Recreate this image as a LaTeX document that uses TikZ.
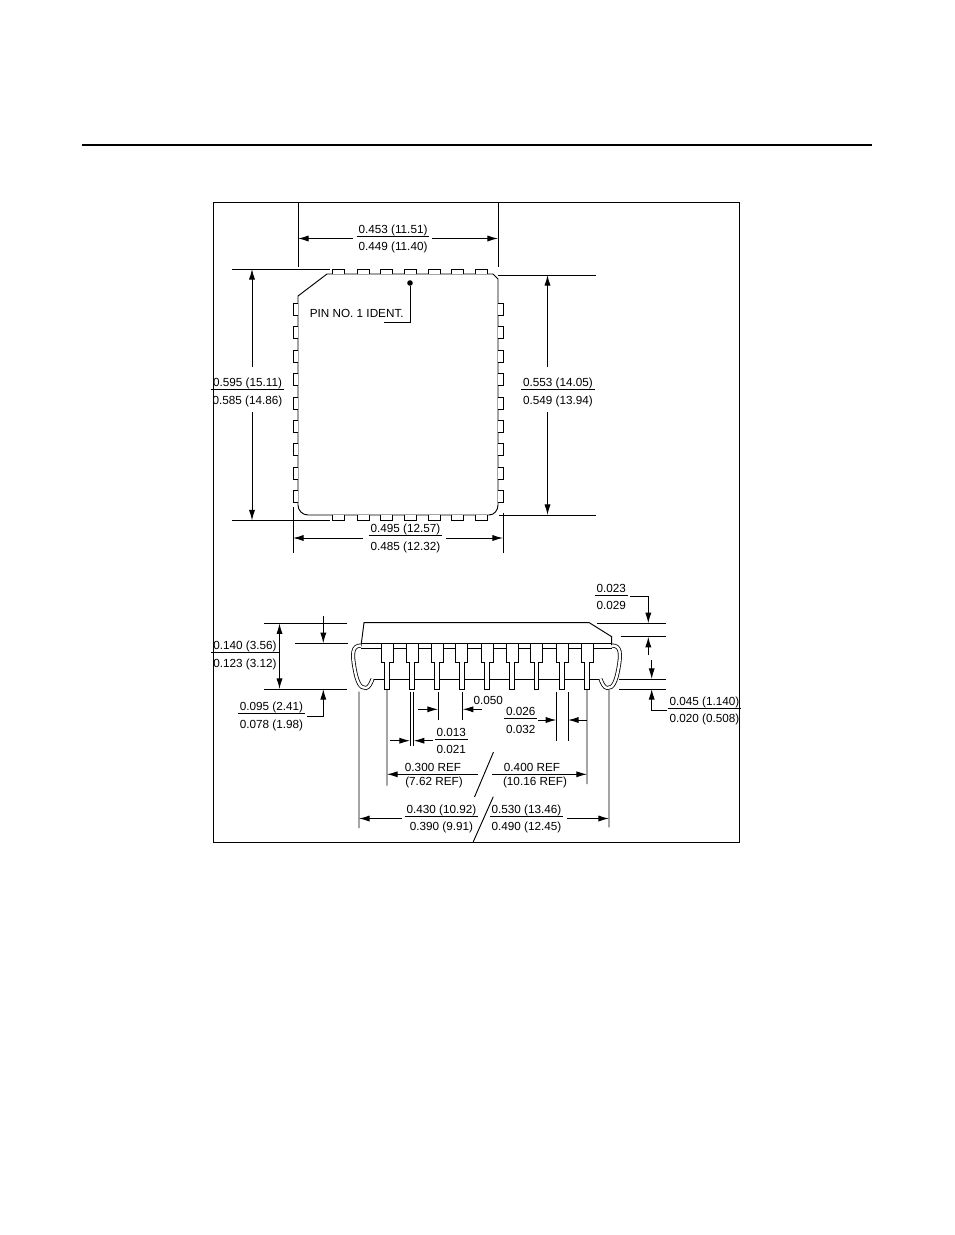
\documentclass[tikz,border=0pt]{standalone}
\usepackage{fontspec}
\setmainfont{Liberation Sans}
\usepackage{tikz}
\usetikzlibrary{arrows.meta}
\newcommand{\dimfrac}[2]{{\renewcommand{\arraystretch}{0}\begin{tabular}{@{\,}c@{\,}}\rule[-2.2pt]{0pt}{9pt}#1\\\hline\rule[-0.4pt]{0pt}{10.8pt}#2\end{tabular}}}
\setlength{\arrayrulewidth}{0.6pt}
\tikzset{
	dimline/.style={line width=0.7pt},
	dimarrow/.style={line width=0.7pt,-{Latex[length=8pt,width=4.6pt]}},
	outline/.style={line width=0.7pt},
	pinbox/.style={line width=0.7pt,fill=white},
	lead/.style={line width=0.6pt,double=white,double distance=1.8pt},
	dimtext/.style={inner sep=0pt,font=\fontsize{8.8}{10}\selectfont}
}
\begin{document}
\begin{tikzpicture}[x=0.75pt,y=-0.75pt]
	\useasboundingbox (0,0) rectangle (954,1235);

	\coordinate (ruleL) at (82,145);
	\coordinate (ruleR) at (872,145);
	\draw [line width=1.4pt] (ruleL) -- (ruleR);
	\draw [line width=0.7pt] (213,202) rectangle (739.7,842);

	% top view
	\draw [outline] (327,274) -- (493,274) -- (498,279) -- (498,505)
		to [out=-90,in=0] (489,515) -- (308,515) to [out=180,in=-90] (298,505) -- (298,296) -- cycle;
	\foreach \x in {332.5,357,380.5,404.5,428,451,475} {
		\draw [pinbox] (\x,274) -- (\x,269) -- (\x+12,269) -- (\x+12,274);
		\draw [pinbox] (\x,515) -- (\x,520) -- (\x+12,520) -- (\x+12,515);
	}
	\foreach \y in {303,326.5,350,373.5,397,420,443.5,467,490} {
		\draw [pinbox] (298,\y) -- (293,\y) -- (293,\y+12) -- (298,\y+12);
		\draw [pinbox] (498,\y) -- (503,\y) -- (503,\y+12) -- (498,\y+12);
	}

	\coordinate (wa) at (298,202);
	\coordinate (wab) at (298,267);
	\coordinate (wb) at (498,202);
	\coordinate (wbb) at (498,267);
	\coordinate (wal) at (353,238.5);
	\coordinate (wam) at (298,238.5);
	\coordinate (wbl) at (432,238.5);
	\coordinate (wbm) at (498,238.5);
	\node [dimtext] (wlab) at (393,238.5) {\dimfrac{0.453 (11.51)}{0.449 (11.40)}};

	\coordinate (ha) at (232,269);
	\coordinate (hab) at (330,269);
	\coordinate (hb) at (232,520.5);
	\coordinate (hbb) at (330,520.5);
	\coordinate (hau) at (252,269);
	\coordinate (hal) at (252,367);
	\coordinate (hbu) at (252,412);
	\coordinate (hbl) at (252,520.5);
	\node [dimtext] (hlab) at (247.5,392) {\dimfrac{0.595 (15.11)}{0.585 (14.86)}};

	\coordinate (ka) at (498,275);
	\coordinate (kab) at (596,275);
	\coordinate (kb) at (499,515);
	\coordinate (kbb) at (596,515);
	\coordinate (kau) at (547.5,275);
	\coordinate (kal) at (547.5,367);
	\coordinate (kbu) at (547.5,412);
	\coordinate (kbl) at (547.5,515);
	\node [dimtext] (klab) at (558,392) {\dimfrac{0.553 (14.05)}{0.549 (13.94)}};

	\coordinate (la) at (293,507);
	\coordinate (lab) at (293,552.5);
	\coordinate (lb) at (503,513);
	\coordinate (lbb) at (503,552.5);
	\coordinate (lam) at (293,538);
	\coordinate (lal) at (363,538);
	\coordinate (lbm) at (503,538);
	\coordinate (lbl) at (446,538);
	\node [dimtext] (llab) at (405.5,538) {\dimfrac{0.495 (12.57)}{0.485 (12.32)}};

	\node [circle,fill,inner sep=0pt,minimum size=4.2pt] (dot) at (410,283) {};
	\coordinate (dotc) at (410,322.7);
	\coordinate (dote) at (384,322.7);
	\node [dimtext,anchor=west] (ident) at (309.5,313) {PIN NO. 1 IDENT.};

	\draw [dimline] (wa) -- (wab) (wb) -- (wbb) (ha) -- (hab) (hb) -- (hbb) (ka) -- (kab) (kb) -- (kbb) (la) -- (lab) (lb) -- (lbb);
	\draw [dimarrow] (wal) -- (wam);
	\draw [dimarrow] (wbl) -- (wbm);
	\draw [dimarrow] (hal) -- (hau);
	\draw [dimarrow] (hbu) -- (hbl);
	\draw [dimarrow] (kal) -- (kau);
	\draw [dimarrow] (kbu) -- (kbl);
	\draw [dimarrow] (lal) -- (lam);
	\draw [dimarrow] (lbl) -- (lbm);
	\draw [dimline] (dot) -- (dotc) -- (dote);

	% side view
	\draw [outline] (361,646) -- (364,622.7) -- (589.3,622.7) -- (611.7,636.7) -- (611.7,645);
	\draw [dimline] (361,648) -- (612,648) (370,679) -- (603,679);
	\foreach \c in {387,412,437,461.7,487,512,536.5,562,587} {
		\draw [pinbox] (\c-6,643.2) -- (\c-6,662) -- (\c-2.4,662) -- (\c-2.4,689) -- (\c+2.4,689) -- (\c+2.4,662) -- (\c+6,662) -- (\c+6,643.2);
	}
	\draw [dimline] (361,643.2) -- (612,643.2);
	\draw [lead] (361,645.5) .. controls (352,645.5) and (352,654) .. (354.5,668) .. controls (357,682) and (360,688.5) .. (366,688) .. controls (369,687.5) and (371,683) .. (372.5,679);
	\draw [lead] (612,645.5) .. controls (621,645.5) and (621,654) .. (618.5,668) .. controls (616,682) and (613,688.5) .. (607,688) .. controls (604,687.5) and (602,683) .. (600.5,679);

	\coordinate (aa) at (264,623.3);
	\coordinate (aab) at (347,623.3);
	\coordinate (ab) at (295,643.3);
	\coordinate (abb) at (348,643.3);
	\coordinate (ac) at (264,689);
	\coordinate (acb) at (347,689);
	\coordinate (au) at (279.5,623.3);
	\coordinate (ad) at (279.5,689);
	\node [dimtext] (alab) at (245,655) {\dimfrac{0.140 (3.56)}{0.123 (3.12)}};
	\coordinate (bs) at (323.3,616);
	\coordinate (be) at (323.3,643.3);
	\coordinate (cs) at (307,716);
	\coordinate (cc) at (323.3,716);
	\coordinate (ce) at (323.3,689);
	\node [dimtext] (clab) at (271.5,716) {\dimfrac{0.095 (2.41)}{0.078 (1.98)}};

	\coordinate (da) at (597.3,623.3);
	\coordinate (dab) at (665.7,623.3);
	\coordinate (db) at (620.7,636.7);
	\coordinate (dbb) at (665.7,636.7);
	\coordinate (dc) at (619.3,679);
	\coordinate (dcb) at (665.7,679);
	\coordinate (dd) at (619.3,689);
	\coordinate (ddb) at (665.7,689);
	\coordinate (es) at (630,596.7);
	\coordinate (ec) at (648.3,596.7);
	\coordinate (ee) at (648.3,623.3);
	\node [dimtext] (elab) at (611.3,596.7) {\dimfrac{0.023}{0.029}};
	\coordinate (fs) at (648.3,655);
	\coordinate (fe) at (648.3,636.7);
	\coordinate (gs) at (651.7,660);
	\coordinate (ge) at (651.7,679);
	\coordinate (hs) at (666.7,710.7);
	\coordinate (hc) at (651.7,710.7);
	\coordinate (he) at (651.7,689);
	\node [dimtext] (hhlab) at (704.5,710.7) {\dimfrac{0.045 (1.140)}{0.020 (0.508)}};

	\coordinate (ma) at (410,691.7);
	\coordinate (mab) at (410,746);
	\coordinate (mb) at (413.7,691.7);
	\coordinate (mbb) at (413.7,746);
	\coordinate (ms) at (390,740.7);
	\coordinate (me) at (410,740.7);
	\coordinate (ns) at (432.7,740.7);
	\coordinate (ne) at (413.7,740.7);
	\node [dimtext] (mlab) at (451.3,740.7) {\dimfrac{0.013}{0.021}};

	\coordinate (oa) at (438,692);
	\coordinate (oab) at (438,720);
	\coordinate (ob) at (462.7,692);
	\coordinate (obb) at (462.7,720);
	\coordinate (os) at (418.3,709.3);
	\coordinate (oe) at (438,709.3);
	\coordinate (ps) at (481.7,709.3);
	\coordinate (pe) at (462.7,709.3);
	\node [dimtext] (olab) at (488.3,700) {0.050};

	\coordinate (qa) at (556.3,692.3);
	\coordinate (qab) at (556.3,741);
	\coordinate (qb) at (568,692.3);
	\coordinate (qbb) at (568,741);
	\coordinate (qs) at (538.3,720);
	\coordinate (qe) at (556.3,720);
	\coordinate (rs) at (586.7,720);
	\coordinate (re) at (568,720);
	\node [dimtext] (qlab) at (520.7,720) {\dimfrac{0.026}{0.032}};

	\coordinate (sa) at (387,689);
	\coordinate (sab) at (387,785.7);
	\coordinate (ss) at (477.7,774.3);
	\coordinate (se) at (387,774.3);
	\node [dimtext] (stop) at (433,767.5) {0.300 REF};
	\node [dimtext] (sbot) at (434,782) {(7.62 REF)};
	\coordinate (ta) at (587,689);
	\coordinate (tab) at (587,784);
	\coordinate (ts) at (491.7,774.3);
	\coordinate (te) at (587,774.3);
	\node [dimtext] (ttop) at (532,767) {0.400 REF};
	\node [dimtext] (tbot) at (535,782) {(10.16 REF)};
	\coordinate (sla) at (474.5,797);
	\coordinate (slb) at (493.5,752);

	\coordinate (ua) at (359,691.7);
	\coordinate (uab) at (359,828);
	\coordinate (us) at (401.7,818.5);
	\coordinate (ue) at (359,818.5);
	\node [dimtext] (ulab) at (441.5,818.5) {\dimfrac{0.430 (10.92)}{0.390 (9.91)}};
	\coordinate (va) at (609,690);
	\coordinate (vab) at (609,827.3);
	\coordinate (vs) at (566.7,818.5);
	\coordinate (ve) at (609,818.5);
	\node [dimtext] (vlab) at (526.5,818.5) {\dimfrac{0.530 (13.46)}{0.490 (12.45)}};
	\coordinate (slc) at (473.3,841.7);
	\coordinate (sld) at (493.3,796.7);

	\draw [dimline] (aa) -- (aab) (ab) -- (abb) (ac) -- (acb) (da) -- (dab) (db) -- (dbb) (dc) -- (dcb) (dd) -- (ddb);
	\draw [dimline] (ma) -- (mab) (mb) -- (mbb) (oa) -- (oab) (ob) -- (obb) (qa) -- (qab) (qb) -- (qbb);
	\draw [dimline] (sa) -- (sab) (ta) -- (tab) (ua) -- (uab) (va) -- (vab) (sla) -- (slb) (slc) -- (sld);
	\draw [dimarrow,{Latex[length=8pt,width=4.6pt]}-{Latex[length=8pt,width=4.6pt]}] (au) -- (ad);
	\draw [dimarrow] (bs) -- (be);
	\draw [dimarrow] (cs) -- (cc) -- (ce);
	\draw [dimarrow] (es) -- (ec) -- (ee);
	\draw [dimarrow] (fs) -- (fe);
	\draw [dimarrow] (gs) -- (ge);
	\draw [dimarrow] (hs) -- (hc) -- (he);
	\draw [dimarrow] (ms) -- (me);
	\draw [dimarrow] (ns) -- (ne);
	\draw [dimarrow] (os) -- (oe);
	\draw [dimarrow] (ps) -- (pe);
	\draw [dimarrow] (qs) -- (qe);
	\draw [dimarrow] (rs) -- (re);
	\draw [dimarrow] (ss) -- (se);
	\draw [dimarrow] (ts) -- (te);
	\draw [dimarrow] (us) -- (ue);
	\draw [dimarrow] (vs) -- (ve);
\end{tikzpicture}
\end{document}
